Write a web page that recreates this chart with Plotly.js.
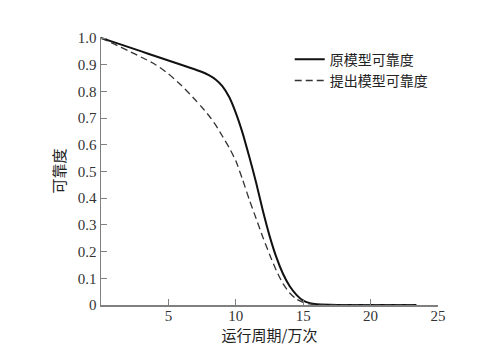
<!DOCTYPE html>
<html>
<head>
<meta charset="utf-8">
<script src="https://cdn.plot.ly/plotly-3.0.1.min.js"></script>
<style>
html,body{margin:0;padding:0;background:#fff;}
#chart{width:483px;height:356px;}
</style>
</head>
<body>
<div id="chart"></div>
<script>
// 运行周期 (万次)
var xOriginal = [0, 1, 2, 3, 4, 5, 6, 7, 7.5, 8, 8.5, 9, 9.5, 10, 10.5, 11, 11.5, 12, 12.5, 13, 13.5, 14, 14.5, 15, 15.5, 16, 17, 18, 20, 23.4];
var yOriginal = [1.0, 0.984, 0.967, 0.95, 0.933, 0.916, 0.899, 0.882, 0.873, 0.861, 0.845, 0.82, 0.78, 0.72, 0.645, 0.555, 0.46, 0.355, 0.26, 0.18, 0.117, 0.07, 0.038, 0.016, 0.007, 0.003, 0.001, 0, 0, 0];

var xProposed = [0, 1, 2, 3, 4, 5, 6, 7, 7.5, 8, 8.5, 9, 9.5, 10, 10.5, 11, 11.5, 12, 12.5, 13, 13.5, 14, 14.5, 15, 15.5, 16, 17, 20, 23.4];
var yProposed = [1.0, 0.977, 0.953, 0.928, 0.902, 0.866, 0.821, 0.768, 0.74, 0.71, 0.675, 0.633, 0.59, 0.54, 0.47, 0.395, 0.325, 0.255, 0.19, 0.13, 0.08, 0.045, 0.022, 0.01, 0.004, 0.001, 0, 0, 0];

var seriesNames = ['原模型可靠度', '提出模型可靠度'];
var xTickVals = [5, 10, 15, 20, 25];
var xTickText = ['5', '10', '15', '20', '25'];
var yTickVals = [0, 0.1, 0.2, 0.3, 0.4, 0.5, 0.6, 0.7, 0.8, 0.9, 1.0];
var yTickText = ['0', '0.1', '0.2', '0.3', '0.4', '0.5', '0.6', '0.7', '0.8', '0.9', '1.0'];
var xTitle = '运行周期/万次';
var yTitle = '可靠度';

var serif = '"Liberation Serif", "Times New Roman", serif';
var cjk = '"Noto Sans CJK SC", "Liberation Serif", serif';

var traces = [
  {x: xOriginal, y: yOriginal, name: seriesNames[0], type: 'scatter', mode: 'lines',
   line: {color: '#111111', width: 2, shape: 'spline', smoothing: 0.6}},
  {x: xProposed, y: yProposed, name: seriesNames[1], type: 'scatter', mode: 'lines',
   line: {color: '#333333', width: 1.3, dash: '7px,4px', shape: 'spline', smoothing: 0.6}}
];

var axisCommon = {
  showline: true, linecolor: '#808080', linewidth: 1.5,
  ticks: 'inside', ticklen: 6, tickwidth: 1, tickcolor: '#808080',
  showgrid: false, zeroline: false,
  tickfont: {family: serif, size: 15, color: '#333333'}
};

var layout = {
  width: 483, height: 356,
  margin: {l: 101, r: 45, t: 37, b: 51, pad: 0},
  paper_bgcolor: '#ffffff', plot_bgcolor: '#ffffff',
  showlegend: true,
  legend: {
    x: 0.56, y: 0.975, xanchor: 'left', yanchor: 'top',
    bgcolor: 'rgba(0,0,0,0)', borderwidth: 0,
    font: {family: cjk, size: 14, color: '#222222'},
    tracegroupgap: 0
  },
  xaxis: Object.assign({}, axisCommon, {
    range: [0, 25], tickmode: 'array', tickvals: xTickVals, ticktext: xTickText,
    ticklabelstandoff: -4,
    title: {text: xTitle, font: {family: cjk, size: 15, color: '#222222'}, standoff: 2}
  }),
  yaxis: Object.assign({}, axisCommon, {
    range: [0, 1.004], tickmode: 'array', tickvals: yTickVals, ticktext: yTickText,
    title: {text: yTitle, font: {family: cjk, size: 15, color: '#222222'}, standoff: 8}
  })
};

Plotly.newPlot('chart', traces, layout, {staticPlot: true, displayModeBar: false});
</script>
</body>
</html>
